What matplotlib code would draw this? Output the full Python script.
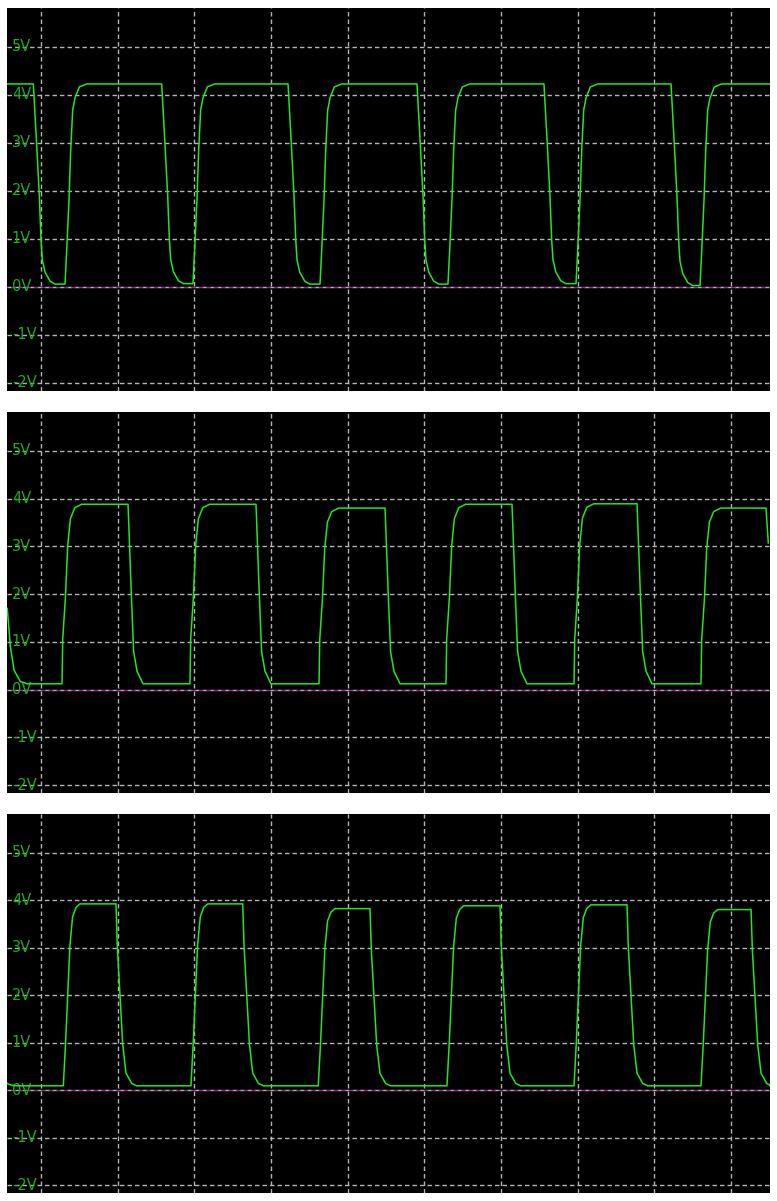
import matplotlib
matplotlib.use("Agg")
import matplotlib.pyplot as plt

# ---------------- data ----------------
PX_PER_DIV = 76.67          # horizontal pixels per grid division (for edge shapes)
VOLT_TICKS = [-2, -1, 0, 1, 2, 3, 4, 5]
VOLT_LABELS = ["-2V", "-1V", "0V", "1V", "2V", "3V", "4V", "5V"]
TIME_GRID = [0, 1, 2, 3, 4, 5, 6, 7, 8, 9]

# edge shapes: (offset in px from edge start, fraction between low and high)
P1_FALL = [(0, 1.0), (3.4, 0.69), (6.0, 0.44), (7.7, 0.22), (9.0, 0.12),
           (11.7, 0.06), (16.7, 0.015), (21.7, 0.0)]
P1_RISE = [(0, 0.0), (1.7, 0.17), (4.0, 0.42), (5.7, 0.67), (7.7, 0.87),
           (10.0, 0.93), (14.3, 0.985), (21.7, 1.0)]
P2_FALL = [(0, 1.0), (1.6, 0.76), (3.3, 0.5), (5.6, 0.18), (9.0, 0.07), (15.0, 0.0)]
P2_RISE = [(0, 0.0), (0.7, 0.25), (3.4, 0.48), (5.7, 0.77), (8.4, 0.92),
           (12.7, 0.98), (19.7, 1.0)]
P3_FALL = [(0, 1.0), (1.3, 0.77), (4.0, 0.5), (6.7, 0.23), (10.0, 0.07),
           (15.7, 0.013), (20.7, 0.0)]
P3_RISE = [(0, 0.0), (2.2, 0.23), (4.4, 0.5), (6.6, 0.77), (9.3, 0.93),
           (12.7, 0.98), (16.7, 1.0)]

# panel 1
P1_START_T = [-0.44]
P1_START_V = [4.23]
P1_EDGE_T = [-0.100, 0.313, 1.574, 1.982, 3.222, 3.639, 4.904, 5.308, 6.560, 6.978, 8.217, 8.595]
P1_EDGE_KIND = ["F", "R", "F", "R", "F", "R", "F", "R", "F", "R", "F", "R"]
P1_HIGH = [4.23, 4.23, 4.23, 4.23, 4.23, 4.23, 4.23, 4.23, 4.23, 4.23, 4.23, 4.23]
P1_LOW = [0.06, 0.06, 0.07, 0.07, 0.06, 0.06, 0.06, 0.06, 0.07, 0.07, 0.03, 0.03]
P1_END_V = 4.23

# panel 2
P2_START_T = [-0.44, -0.40, -0.35, -0.27, -0.18]
P2_START_V = [1.70, 0.90, 0.40, 0.17, 0.12]
P2_EDGE_T = [0.274, 1.135, 1.943, 2.804, 3.626, 4.487, 5.282, 6.143, 6.952, 7.774, 8.608]
P2_EDGE_KIND = ["R", "F", "R", "F", "R", "F", "R", "F", "R", "F", "R"]
P2_HIGH = [3.88, 3.88, 3.88, 3.88, 3.80, 3.80, 3.88, 3.88, 3.89, 3.89, 3.80]
P2_LOW = [0.12, 0.12, 0.12, 0.12, 0.12, 0.12, 0.12, 0.12, 0.12, 0.12, 0.12]
P2_END_T = [9.456, 9.486]
P2_END_V = [3.80, 3.07]

# panel 3
P3_START_T = [-0.44, -0.40, -0.33]
P3_START_V = [0.14, 0.11, 0.09]
P3_EDGE_T = [0.291, 0.978, 1.956, 2.631, 3.616, 4.291, 5.295, 5.987, 6.952, 7.643, 8.608, 9.261]
P3_EDGE_KIND = ["R", "F", "R", "F", "R", "F", "R", "F", "R", "F", "R", "F"]
P3_HIGH = [3.92, 3.92, 3.92, 3.92, 3.82, 3.82, 3.88, 3.88, 3.90, 3.90, 3.80, 3.80]
P3_LOW = [0.09, 0.09, 0.09, 0.09, 0.09, 0.09, 0.09, 0.09, 0.09, 0.09, 0.09, 0.09]
P3_END_V = 0.09

# ---------------- helpers ----------------
X_LEFT, X_RIGHT = -0.4435, 9.508
Y_BOT, Y_TOP = -2.167, 5.8125


def build(start_t, start_v, edge_t, kinds, highs, lows, fall, rise):
    t = list(start_t)
    v = list(start_v)
    for te, k, hi, lo in zip(edge_t, kinds, highs, lows):
        shape = fall if k == "F" else rise
        for dx, f in shape:
            t.append(te + dx / PX_PER_DIV)
            v.append(lo + f * (hi - lo))
    return t, v


def style_axes(ax):
    ax.set_facecolor("black")
    ax.set_xlim(X_LEFT, X_RIGHT)
    ax.set_ylim(Y_BOT, Y_TOP)
    ax.set_xticks([])
    ax.set_yticks([])
    for s in ax.spines.values():
        s.set_visible(False)
    for xv in TIME_GRID:
        ax.axvline(xv, color="#b4b4b4", lw=1.0, ls=(0, (3.2, 2.2)), zorder=1)
    for yv, lab in zip(VOLT_TICKS, VOLT_LABELS):
        ax.axhline(yv, color="#b4b4b4", lw=1.0, ls=(0, (3.2, 2.2)), zorder=1)
        ax.text(-0.38, yv, lab, color="#22a822", fontsize=10.5,
                family="DejaVu Sans", ha="left", va="center", zorder=2)
    ax.axhline(0, color="#a020a0", lw=1.0, ls=(2.7, (3.2, 2.2)), zorder=1.5)


fig = plt.figure(figsize=(7.77, 12.01), dpi=100)
fig.patch.set_facecolor("white")
W, H = 777.0, 1201.0
panels = [(8, 391), (412, 793), (814, 1193)]
axes = []
for top, bot in panels:
    ax = fig.add_axes([7 / W, (H - bot) / H, 763 / W, (bot - top) / H])
    style_axes(ax)
    axes.append(ax)

t1, v1 = build(P1_START_T, P1_START_V, P1_EDGE_T, P1_EDGE_KIND, P1_HIGH, P1_LOW, P1_FALL, P1_RISE)
t1.append(X_RIGHT)
v1.append(P1_END_V)
t2, v2 = build(P2_START_T, P2_START_V, P2_EDGE_T, P2_EDGE_KIND, P2_HIGH, P2_LOW, P2_FALL, P2_RISE)
t2 += P2_END_T
v2 += P2_END_V
t3, v3 = build(P3_START_T, P3_START_V, P3_EDGE_T, P3_EDGE_KIND, P3_HIGH, P3_LOW, P3_FALL, P3_RISE)
t3.append(X_RIGHT)
v3.append(P3_END_V)

for ax, (t, v) in zip(axes, [(t1, v1), (t2, v2), (t3, v3)]):
    ax.plot(t, v, color="#22e622", lw=1.1, zorder=3, solid_joinstyle="round")

fig.savefig("out.png", dpi=100, facecolor="white")
